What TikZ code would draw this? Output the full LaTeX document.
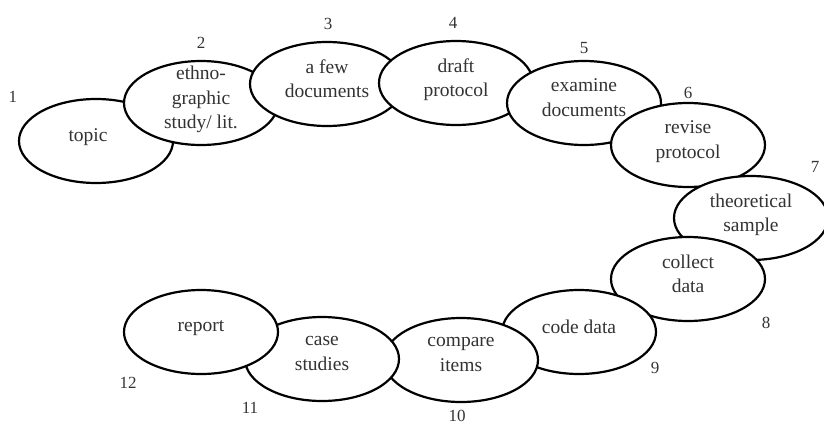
\documentclass[tikz,border=0pt]{standalone}
\usepackage{fontspec}
\setmainfont{Liberation Serif}
\usepackage{tikz}
\usetikzlibrary{shapes.geometric}
\definecolor{txtgray}{HTML}{333333}

\tikzset{
	stage/.style = {ellipse, draw, line width = 2.2pt, fill = white, inner sep = -10pt,
		minimum width = 154pt, minimum height = 84pt, align = center, text = txtgray,
		text depth = 11pt, font = \fontsize{19.5}{24.5}\selectfont},
	num/.style = {inner sep = 0pt, text = txtgray, font = \fontsize{17}{17}\selectfont}
}

\begin{document}
\begin{tikzpicture}[x = 1pt, y = -1pt]
	\useasboundingbox (0, 0) rectangle (824, 426);
	\path (96, 141) node[stage] (topic) {topic\hspace{16pt}}
	(201, 103) node[stage] (ethno) {ethno-\\graphic\\study/ lit.}
	(327, 84) node[stage] (fewdocs) {a few\\documents}
	(456, 83) node[stage] (draft) {draft\\protocol}
	(584, 103) node[stage] (examine) {examine\\documents}
	(688, 145) node[stage] (revise) {revise\\protocol}
	(751, 218) node[stage] (theory) {theoretical\\sample}
	(688, 279) node[stage] (collect) {collect\\data}
	(579, 332) node[stage] (code) {code data}
	(461, 360) node[stage] (compare) {compare\\items}
	(322, 359) node[stage] (cases) {case\\studies}
	(201, 332) node[stage] (report) {report};
	
	\path (13, 97) node[num] (n1) {1}
	(201, 43) node[num] (n2) {2}
	(328, 24) node[num] (n3) {3}
	(453, 23) node[num] (n4) {4}
	(584, 48) node[num] (n5) {5}
	(688, 93) node[num] (n6) {6}
	(815, 167) node[num] (n7) {7}
	(766, 323) node[num] (n8) {8}
	(655, 368) node[num] (n9) {9}
	(457, 416) node[num] (n10) {10}
	(250, 408) node[num] (n11) {11}
	(128, 383) node[num] (n12) {12};
\end{tikzpicture}
\end{document}
